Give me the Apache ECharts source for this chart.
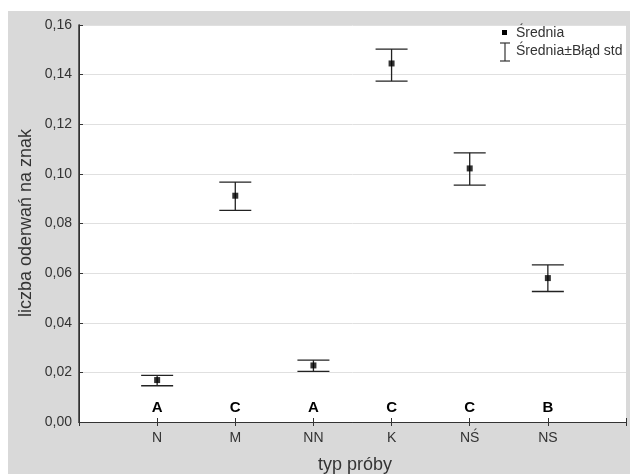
<!DOCTYPE html>
<html>
<head>
<meta charset="utf-8">
<script src="https://cdn.jsdelivr.net/npm/echarts@6/dist/echarts.min.js"></script>
<style>
  html, body { margin: 0; padding: 0; background: #fff; }
  #chart { width: 630px; height: 474px; }
</style>
</head>
<body>
<div id="chart"></div>
<script>
const categories = ['N', 'M', 'NN', 'K', 'NŚ', 'NS']
const means = [0.0169, 0.0912, 0.0228, 0.1445, 0.1022, 0.0580]
const lower = [0.0146, 0.0853, 0.0204, 0.1374, 0.0955, 0.0526]
const upper = [0.0188, 0.0967, 0.0249, 0.1503, 0.1085, 0.0633]
const groups = ['A', 'C', 'A', 'C', 'C', 'B']

const FONT = '"Liberation Sans", Arial, sans-serif'
const chart = echarts.init(document.getElementById('chart'))

const fmt = v => v.toFixed(2).replace('.', ',')

const errData = categories.map((c, i) => [i + 1, lower[i], upper[i]])
const meanData = categories.map((c, i) => [i + 1, means[i]])
const groupData = categories.map((c, i) => [i + 1, 0])

const option = {
  animation: false,
  backgroundColor: '#fff',
  textStyle: { fontFamily: FONT },
  graphic: [
    { type: 'rect', z: -10, shape: { x: 8, y: 11, width: 622, height: 463 }, style: { fill: '#d9d9d9' } },
    { type: 'rect', z: -9, shape: { x: 79, y: 25, width: 547, height: 397 }, style: { fill: '#fff' } },
    {
      type: 'text', x: 26, y: 223, rotation: Math.PI / 2,
      style: { text: 'liczba oderwań na znak', font: '18px ' + FONT, fill: '#333', align: 'center', verticalAlign: 'middle' }
    },
    {
      type: 'text', x: 355, y: 465,
      style: { text: 'typ próby', font: '18px ' + FONT, fill: '#333', align: 'center', verticalAlign: 'middle' }
    },
    // legenda
    { type: 'rect', shape: { x: 502, y: 30, width: 5, height: 5 }, style: { fill: '#000' } },
    {
      type: 'text', x: 516, y: 33,
      style: { text: 'Średnia', font: '14px ' + FONT, fill: '#333', verticalAlign: 'middle' }
    },
    { type: 'line', shape: { x1: 505, y1: 43, x2: 505, y2: 61 }, style: { stroke: '#333', lineWidth: 1.2 } },
    { type: 'line', shape: { x1: 500, y1: 43, x2: 510, y2: 43 }, style: { stroke: '#333', lineWidth: 1.2 } },
    { type: 'line', shape: { x1: 500, y1: 61, x2: 510, y2: 61 }, style: { stroke: '#333', lineWidth: 1.2 } },
    {
      type: 'text', x: 516, y: 51,
      style: { text: 'Średnia±Błąd std', font: '14px ' + FONT, fill: '#333', verticalAlign: 'middle' }
    }
  ],
  grid: { left: 79, top: 25, right: 4, bottom: 52 },
  xAxis: [
    {
      type: 'value', min: 0, max: 7, interval: 1,
      axisLine: { show: true, lineStyle: { color: '#333', width: 1 } },
      axisTick: { show: true, inside: true, length: 4, lineStyle: { color: '#333' } },
      splitLine: { show: false },
      axisLabel: {
        color: '#333', fontSize: 14, margin: 9,
        formatter: v => categories[v - 1] || ''
      }
    },
    {
      type: 'value', min: 0, max: 7, interval: 1, position: 'top',
      axisLine: { show: true, lineStyle: { color: '#333', width: 1 } },
      axisTick: { show: true, inside: true, length: 4, lineStyle: { color: '#333' } },
      splitLine: { show: false },
      axisLabel: { show: false }
    }
  ],
  yAxis: [
    {
      type: 'value', min: 0, max: 0.16, interval: 0.02,
      axisLine: { show: true, lineStyle: { color: '#333', width: 1 } },
      axisTick: { show: true, inside: true, length: 4, lineStyle: { color: '#333' } },
      splitLine: { show: true, lineStyle: { color: '#e0e0e0', width: 1 } },
      axisLabel: { color: '#333', fontSize: 14, margin: 7, formatter: fmt }
    },
    {
      type: 'value', min: 0, max: 0.16, interval: 0.02, position: 'right',
      axisLine: { show: true, lineStyle: { color: '#333', width: 1.5 } },
      axisTick: { show: true, inside: false, length: 3, lineStyle: { color: '#333' } },
      splitLine: { show: false },
      axisLabel: { show: false }
    }
  ],
  series: [
    {
      type: 'custom',
      data: errData,
      encode: { x: 0, y: [1, 2] },
      renderItem: (params, api) => {
        const x = api.value(0)
        const lo = api.coord([x, api.value(1)])
        const hi = api.coord([x, api.value(2)])
        const hw = 16
        const style = { stroke: '#222', lineWidth: 1.3 }
        return {
          type: 'group',
          children: [
            { type: 'line', shape: { x1: lo[0], y1: lo[1], x2: hi[0], y2: hi[1] }, style },
            { type: 'line', shape: { x1: lo[0] - hw, y1: lo[1], x2: lo[0] + hw, y2: lo[1] }, style },
            { type: 'line', shape: { x1: hi[0] - hw, y1: hi[1], x2: hi[0] + hw, y2: hi[1] }, style }
          ]
        }
      },
      z: 2
    },
    {
      type: 'scatter',
      data: meanData,
      symbol: 'rect',
      symbolSize: 6,
      itemStyle: { color: '#000' },
      z: 3
    },
    {
      type: 'custom',
      data: groupData,
      encode: { x: 0, y: 1 },
      renderItem: (params, api) => {
        const p = api.coord([api.value(0), api.value(1)])
        return {
          type: 'text',
          x: p[0], y: p[1] - 14,
          style: {
            text: groups[params.dataIndex],
            font: 'bold 15px ' + FONT,
            fill: '#000', align: 'center', verticalAlign: 'middle'
          }
        }
      }
    }
  ]
}

chart.setOption(option)
</script>
</body>
</html>
